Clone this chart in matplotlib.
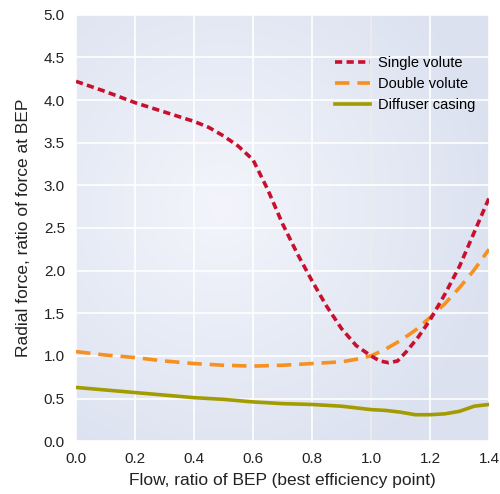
import numpy as np
import matplotlib.pyplot as plt

plt.rcParams['font.family'] = ['Liberation Sans', 'DejaVu Sans']

# flow ratio (x) and radial force ratio (y)
single_x = [0.0, 0.1, 0.2, 0.3, 0.4, 0.45, 0.5, 0.55, 0.6, 0.65, 0.7, 0.75, 0.8, 0.85, 0.9,
            0.95, 1.0, 1.03, 1.06, 1.09, 1.12, 1.16, 1.2, 1.25, 1.3, 1.35, 1.4]
single_y = [4.22, 4.10, 3.97, 3.86, 3.75, 3.68, 3.58, 3.46, 3.30, 2.95, 2.55, 2.20, 1.88, 1.58, 1.32,
            1.12, 1.00, 0.94, 0.92, 0.94, 1.05, 1.22, 1.42, 1.72, 2.05, 2.45, 2.85]

double_x = [0.0, 0.1, 0.2, 0.3, 0.4, 0.5, 0.6, 0.7, 0.8, 0.9, 0.95, 1.0, 1.05, 1.1, 1.15,
            1.2, 1.25, 1.3, 1.35, 1.4]
double_y = [1.05, 1.01, 0.98, 0.94, 0.91, 0.89, 0.88, 0.89, 0.91, 0.93, 0.96, 1.00, 1.08, 1.18, 1.30,
            1.45, 1.61, 1.80, 2.01, 2.25]

diffuser_x = [0.0, 0.1, 0.2, 0.3, 0.4, 0.5, 0.6, 0.7, 0.8, 0.9, 1.0, 1.05, 1.1, 1.15,
              1.2, 1.25, 1.3, 1.35, 1.4]
diffuser_y = [0.63, 0.60, 0.57, 0.54, 0.51, 0.49, 0.46, 0.44, 0.43, 0.41, 0.37, 0.36, 0.34, 0.31,
              0.31, 0.32, 0.35, 0.41, 0.43]

fig = plt.figure(figsize=(5.0, 4.94), dpi=100)
ax = fig.add_axes([0.152, 0.107, 0.826, 0.863])

# soft radial background
gx, gy = np.meshgrid(np.linspace(0, 1, 200), np.linspace(0, 1, 200))
dist = np.sqrt(((gx - 0.35) / 0.9) ** 2 + ((gy - 0.55) / 0.9) ** 2)
dist = np.clip(dist / 0.75, 0, 1)
c_in = np.array([0.955, 0.96, 0.985])
c_out = np.array([0.86, 0.885, 0.94])
img = c_in[None, None, :] * (1 - dist[..., None]) + c_out[None, None, :] * dist[..., None]
ax.imshow(img, extent=[0, 1.4, 0, 5], origin='lower', aspect='auto', zorder=0)

ax.set_xlim(0, 1.4)
ax.set_ylim(0, 5)
ax.set_xticks(np.arange(0, 1.41, 0.2))
ax.set_yticks(np.arange(0, 5.01, 0.5))
ax.set_xticklabels([f'{v:.1f}' for v in np.arange(0, 1.41, 0.2)])
ax.set_yticklabels([f'{v:.1f}' for v in np.arange(0, 5.01, 0.5)])
ax.grid(color='white', linewidth=1.2, zorder=1)
ax.set_axisbelow(False)
ax.tick_params(length=0, labelsize=11, colors='#222222', pad=8)
for s in ax.spines.values():
    s.set_visible(False)

ax.axvline(1.0, color='#6e6e6e', linewidth=1.1, zorder=2)

ax.plot(single_x, single_y, color='#c8102e', linewidth=2.6, linestyle=(0, (2.0, 1.2)),
        label='Single volute', zorder=4)
ax.plot(double_x, double_y, color='#f7901e', linewidth=2.6, linestyle=(0, (4.0, 2.2)),
        label='Double volute', zorder=3)
ax.plot(diffuser_x, diffuser_y, color='#a39c00', linewidth=2.6, label='Diffuser casing', zorder=3)

ax.set_xlabel('Flow, ratio of BEP (best efficiency point)', fontsize=12.5, color='#222222', labelpad=5)
ax.set_ylabel('Radial force, ratio of force at BEP', fontsize=12.5, color='#222222', labelpad=9)

leg = ax.legend(loc='upper right', bbox_to_anchor=(1.0, 0.935), frameon=False, fontsize=10.5,
                handlelength=2.4, labelspacing=0.5, handletextpad=0.6)

fig.savefig('out.png', dpi=100)
